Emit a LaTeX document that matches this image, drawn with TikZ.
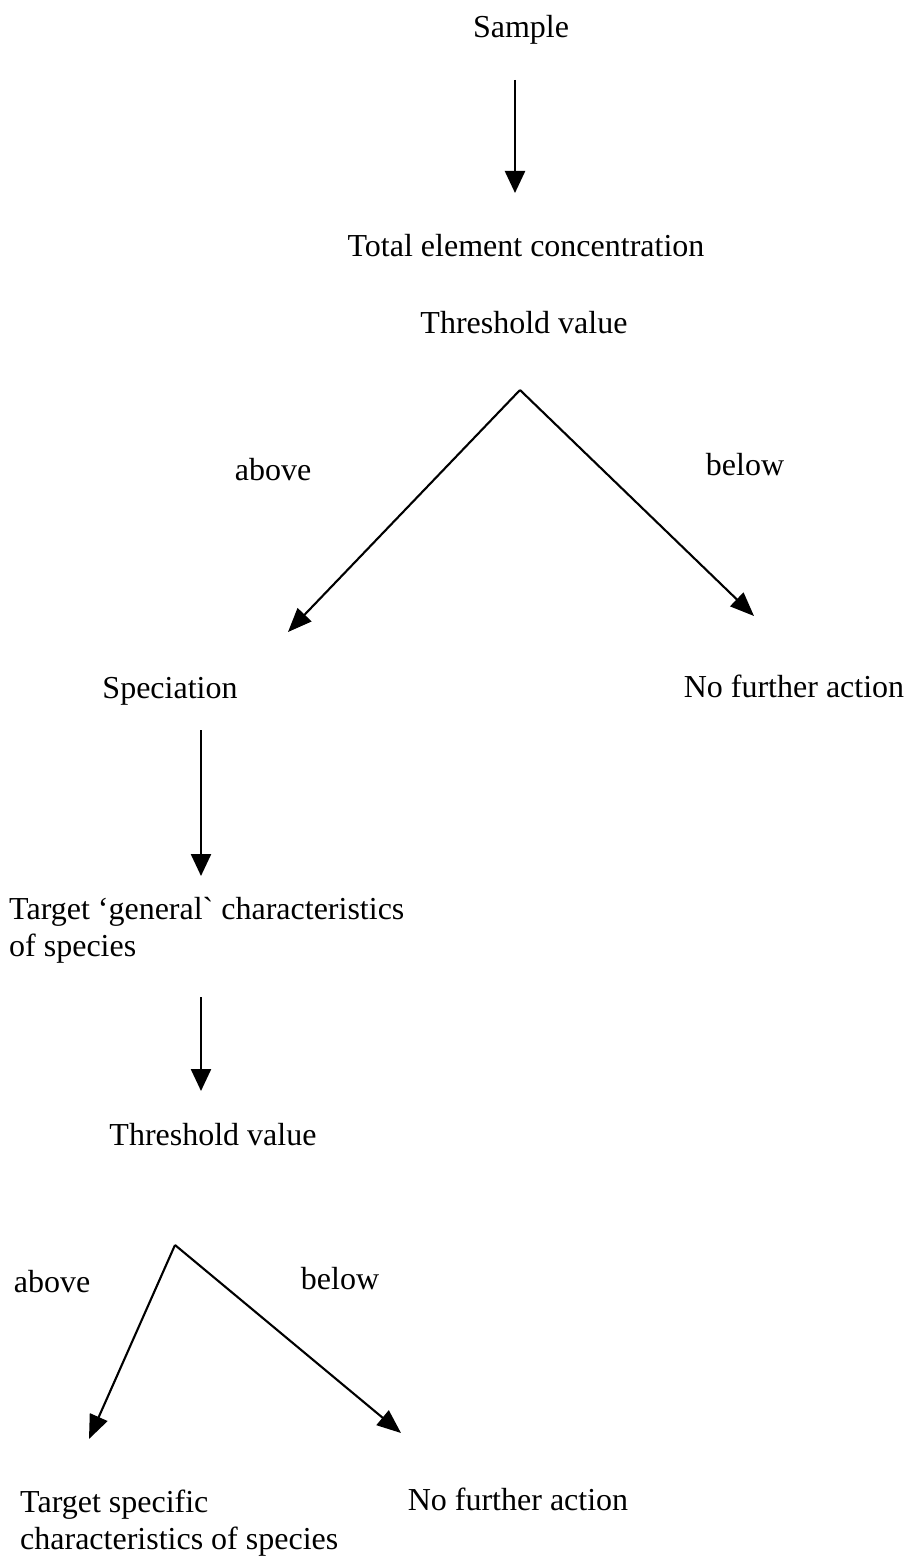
\documentclass[tikz,border=0pt]{standalone}
\usepackage{fontspec}
\setmainfont{Liberation Serif}[Ligatures=TeXOff]
\usetikzlibrary{arrows.meta}
\begin{document}
\begin{tikzpicture}[x=1pt,y=-1pt,
  lbl/.style={inner sep=0pt,font=\fontsize{32}{37}\selectfont},
  lbll/.style={lbl,align=left},
  arr/.style={line width=2.4pt,-{Triangle[length=22pt,width=20pt]}},
  darr/.style={line width=2.1pt,-{Triangle[length=24pt,width=19pt]}}]
\useasboundingbox[fill=white] (0,0) rectangle (908,1557);
% top part
\node[lbl] (sample) at (521,30) {Sample};
\node[lbl] (total) at (526,246) {Total element concentration};
\node[lbl] (thr1) at (524,323) {Threshold value};
\coordinate (a1s) at (515,80);
\coordinate (a1e) at (515,193);
\draw[arr] (a1s) -- (a1e);
\coordinate (ap1) at (520,390);
\coordinate (l1e) at (288,632);
\coordinate (r1e) at (754,616);
\draw[darr] (ap1) -- (l1e);
\draw[darr] (ap1) -- (r1e);
\node[lbl] (above1) at (273,470) {above};
\node[lbl] (below1) at (745,465) {below};
\node[lbl] (spec) at (170,691) {Speciation};
\node[lbl] (nfa1) at (794,686) {No further action};
% middle
\coordinate (a2s) at (201,730);
\coordinate (a2e) at (201,876);
\draw[arr] (a2s) -- (a2e);
\node[lbll,anchor=north west] (tgen) at (9,897) {Target ‘general` characteristics\\of species};
\coordinate (a3s) at (201,997);
\coordinate (a3e) at (201,1091);
\draw[arr] (a3s) -- (a3e);
\node[lbl] (thr2) at (213,1135) {Threshold value};
% bottom
\coordinate (ap2) at (175,1245);
\coordinate (l2e) at (89,1439);
\coordinate (r2e) at (401,1433);
\draw[darr] (ap2) -- (l2e);
\draw[darr] (ap2) -- (r2e);
\node[lbl] (above2) at (52,1282) {above};
\node[lbl] (below2) at (340,1279) {below};
\node[lbll,anchor=north west] (tspec) at (20,1490) {Target specific\\characteristics of species};
\node[lbl] (nfa2) at (518,1499) {No further action};
\end{tikzpicture}
\end{document}
